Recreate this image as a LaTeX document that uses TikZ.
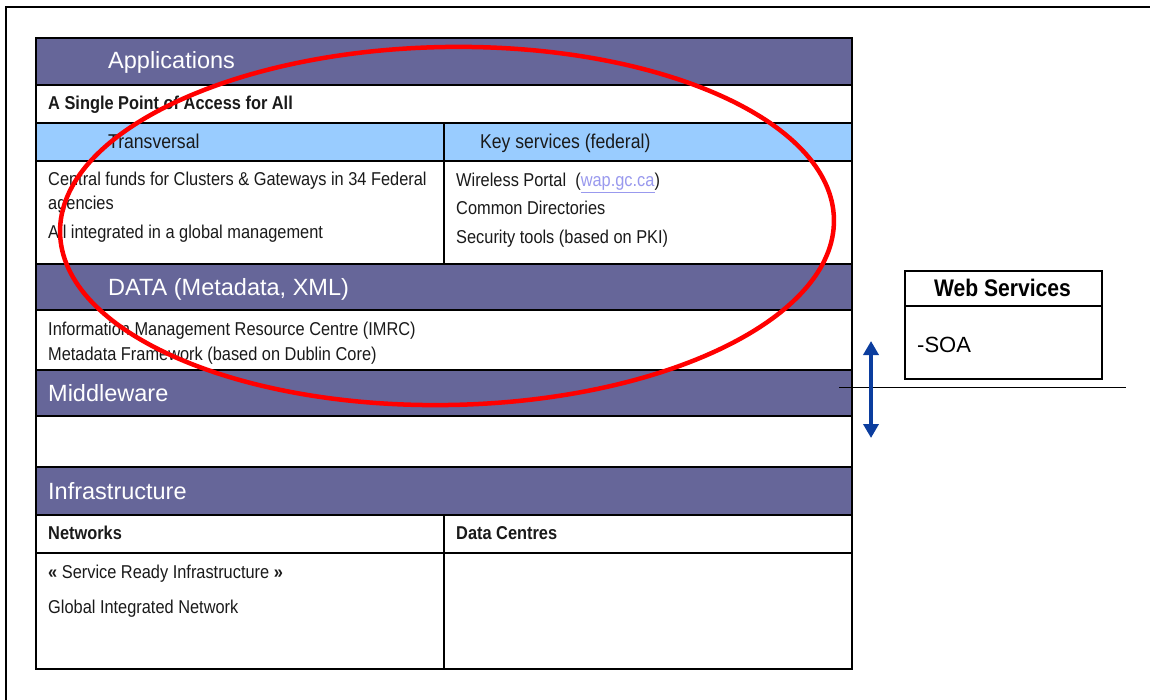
\documentclass[tikz,border=0pt]{standalone}
\usepackage{fontspec}
\setmainfont{Liberation Sans}
\newfontfamily\narrowfont{Liberation Sans}[FakeStretch=0.88]
\usetikzlibrary{arrows.meta}

\definecolor{bandpurple}{HTML}{666699}
\definecolor{subblue}{HTML}{99CCFF}
\definecolor{bodyink}{HTML}{1A1A1A}
\definecolor{linkcol}{HTML}{9999EE}
\definecolor{arrowblue}{HTML}{0B3D9E}

\tikzset{
  band/.style={draw=black, line width=1.8pt, fill=bandpurple, inner sep=0pt, anchor=north west},
  subhead/.style={draw=black, line width=1.8pt, fill=subblue, inner sep=0pt, anchor=north west},
  cell/.style={draw=black, line width=1.8pt, fill=white, inner sep=0pt, anchor=north west},
  bandtext/.style={font=\fontsize{23.5pt}{28pt}\selectfont, text=white, anchor=base west, inner sep=0pt},
  bodytext/.style={font=\narrowfont\fontsize{18.6pt}{22pt}\selectfont, text=bodyink, anchor=base west, inner sep=0pt},
  boldtext/.style={bodytext, font=\narrowfont\bfseries\fontsize{18.6pt}{22pt}\selectfont},
  subtext/.style={font=\narrowfont\fontsize{20pt}{24pt}\selectfont, text=bodyink, anchor=base west, inner sep=0pt},
  wsbox/.style={draw=black, line width=1.8pt, fill=white, inner sep=0pt, anchor=north west},
  updown/.style={draw=arrowblue, line width=3.5pt,
    {Triangle[width=15pt,length=14pt]}-{Triangle[width=15pt,length=14pt]}},
  focus/.style={draw=red, line width=4.5pt},
}

\begin{document}
\begin{tikzpicture}[x=1pt, y=-1pt]
\useasboundingbox (0,0) rectangle (1150,700);

% frame along the top and left edges
\coordinate (frameBL) at (6,700);
\coordinate (frameTL) at (6,7);
\coordinate (frameTR) at (1150,7);
\draw[line width=2pt] (frameBL) -- (frameTL) -- (frameTR);

% ---- Applications layer
\node[band, minimum width=816pt, minimum height=47pt] (apphead) at (35,37) {};
\node[cell, minimum width=816pt, minimum height=38pt] (access) at (35,84) {};
\node[subhead, minimum width=408pt, minimum height=38pt] (transhead) at (35,122) {};
\node[subhead, minimum width=408pt, minimum height=38pt] (keyhead) at (443,122) {};
\node[cell, minimum width=408pt, minimum height=103pt] (transbody) at (35,160) {};
\node[cell, minimum width=408pt, minimum height=103pt] (keybody) at (443,160) {};

% ---- Data layer
\node[band, minimum width=816pt, minimum height=46pt] (datahead) at (35,263) {};
\node[cell, minimum width=816pt, minimum height=60pt] (databody) at (35,309) {};

% ---- Middleware layer
\node[band, minimum width=816pt, minimum height=46pt] (midhead) at (35,369) {};
\node[cell, minimum width=816pt, minimum height=51pt] (midbody) at (35,415) {};

% ---- Infrastructure layer
\node[band, minimum width=816pt, minimum height=48pt] (infrahead) at (35,466) {};
\node[cell, minimum width=408pt, minimum height=38pt] (nethead) at (35,514) {};
\node[cell, minimum width=408pt, minimum height=38pt] (dchead) at (443,514) {};
\node[cell, minimum width=408pt, minimum height=116pt] (netbody) at (35,552) {};
\node[cell, minimum width=408pt, minimum height=116pt] (dcbody) at (443,552) {};

% ---- texts
\node[bandtext] (tApp) at (108,69) {Applications};
\node[boldtext] (tAccess) at (48,110) {A Single Point of Access for All};
\node[subtext] (tTrans) at (108,148.3) {Transversal};
\node[subtext] (tKey) at (480,148.3) {Key services (federal)};
\node[bodytext] (tFunds1) at (48,185.7) {Central funds for Clusters \& Gateways in 34 Federal};
\node[bodytext] (tFunds2) at (48,209.3) {agencies};
\node[bodytext] (tIntegr) at (48,238.3) {All integrated in a global management};
\node[bodytext] (tWireless) at (456,186.7) {Wireless Portal\ \ (\textcolor{linkcol}{\underline{wap.gc.ca}})};
\node[bodytext] (tDirs) at (456,215) {Common Directories};
\node[bodytext] (tSec) at (456,243.3) {Security tools (based on PKI)};

\node[bandtext] (tData) at (108,296) {DATA (Metadata, XML)};
\node[bodytext] (tIMRC) at (48,335) {Information Management Resource Centre (IMRC)};
\node[bodytext] (tMeta) at (48,360) {Metadata Framework (based on Dublin Core)};

\node[bandtext] (tMid) at (48,401) {Middleware};
\node[bandtext] (tInfra) at (48,499) {Infrastructure};

\node[boldtext] (tNet) at (48,539.5) {Networks};
\node[boldtext] (tDC) at (456,539.5) {Data Centres};
\node[bodytext] (tSRI) at (48,578.5) {\textbf{«} Service Ready Infrastructure \textbf{»}};
\node[bodytext] (tGIN) at (48,613.5) {Global Integrated Network};

% ---- highlight ring
\draw[focus, rotate around={1:(447,226)}] (447,226) ellipse [x radius=387pt, y radius=179pt];

% ---- web services side box
\node[wsbox, minimum width=197pt, minimum height=35pt] (wshead) at (904,270) {};
\node[wsbox, minimum width=197pt, minimum height=73pt] (wsbody) at (904,305) {};
\node[font=\narrowfont\bfseries\fontsize{24pt}{28pt}\selectfont, anchor=base, inner sep=0pt] (tWS) at (1002.5,296.7) {Web Services};
\node[font=\fontsize{22pt}{26pt}\selectfont, anchor=base west, inner sep=0pt] (tSOA) at (917,352.7) {-SOA};

% ---- boundary line and two-way arrow
\coordinate (cutL) at (839,387.5);
\coordinate (cutR) at (1126,387.5);
\draw[line width=1.3pt] (cutL) -- (cutR);
\coordinate (arrTop) at (871,341);
\coordinate (arrBot) at (871,438);
\draw[updown] (arrTop) -- (arrBot);
\end{tikzpicture}
\end{document}
